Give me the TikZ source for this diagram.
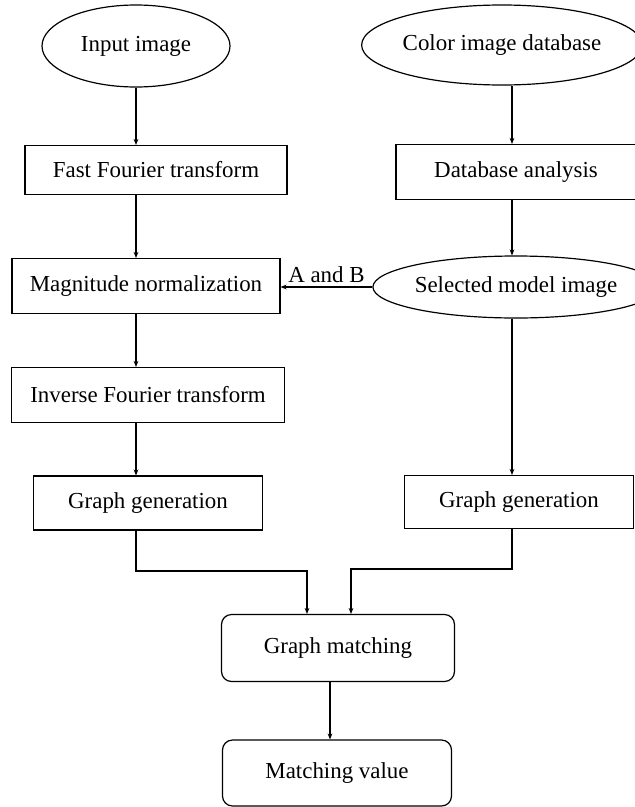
\documentclass[tikz,border=0pt]{standalone}
\usepackage{fontspec}
\setmainfont{Liberation Serif}
\usetikzlibrary{arrows.meta,shapes.geometric,positioning,calc}

\begin{document}
\begin{tikzpicture}[x=0.5bp,y=-0.5bp,
  every node/.style={font=\fontsize{11.5}{13}\selectfont, inner sep=0pt},
  block/.style={draw, line width=0.6pt, rectangle},
  rblock/.style={draw, line width=0.6pt, rectangle, rounded corners=5bp},
  oval/.style={draw, line width=0.6pt, ellipse},
  arr/.style={line width=0.6pt, -{Stealth[length=3pt,width=2.4pt]}}]
\useasboundingbox (0,0) rectangle (635,807);
% left column
\node[oval, minimum width=94bp, minimum height=41bp] (in) at (136,46) {Input image};
\node[block, minimum width=131bp, minimum height=24.5bp] (fft) at (156,170) {Fast Fourier transform};
\node[block, minimum width=134bp, minimum height=27.5bp] (mag) at (146,286) {Magnitude normalization};
\node[block, minimum width=136.5bp, minimum height=27.5bp] (inv) at (148,395) {Inverse Fourier transform};
\node[block, minimum width=114.5bp, minimum height=27bp] (gg1) at (148,503) {Graph generation};
% right column
\node[oval, minimum width=136bp, minimum height=40bp] (db) at (502,45) {Color image database};
\node[block, minimum width=120bp, minimum height=27.5bp] (dba) at (516,172) {Database analysis};
\node[oval, minimum width=121bp, minimum height=31bp] (sel) at (516,287) {Selected model image};
\node[block, minimum width=114.5bp, minimum height=26.5bp] (gg2) at (519,502) {Graph generation};
% bottom
\node[rblock, minimum width=116.5bp, minimum height=33.5bp] (gm) at (338,648) {Graph matching};
\node[rblock, minimum width=114.5bp, minimum height=33bp] (mv) at (337,773) {Matching value};
% connector columns
\coordinate (lx) at (136,0);
\coordinate (rx) at (512,0);
\coordinate (mx) at (330,0);
\coordinate (jl) at (307,571);
\coordinate (jr) at (351,569);
% connectors
\draw[arr] (in.south) -- (in.south |- fft.north);
\draw[arr] (fft.south -| lx) -- (mag.north -| lx);
\draw[arr] (mag.south -| lx) -- (inv.north -| lx);
\draw[arr] (inv.south -| lx) -- (gg1.north -| lx);
\draw[arr] (db.south -| rx) -- (dba.north -| rx);
\draw[arr] (dba.south -| rx) -- (sel.north -| rx);
\draw[arr] (sel.south -| rx) -- (gg2.north -| rx);
\draw[arr] (sel.west) -- node[above=2bp] {A and B} (sel.west -| mag.east);
\draw[arr] (gg1.south -| lx) |- (jl) -- (jl |- gm.north);
\draw[arr] (gg2.south -| rx) |- (jr) -- (jr |- gm.north);
\draw[arr] (gm.south -| mx) -- (mv.north -| mx);
\end{tikzpicture}
\end{document}
